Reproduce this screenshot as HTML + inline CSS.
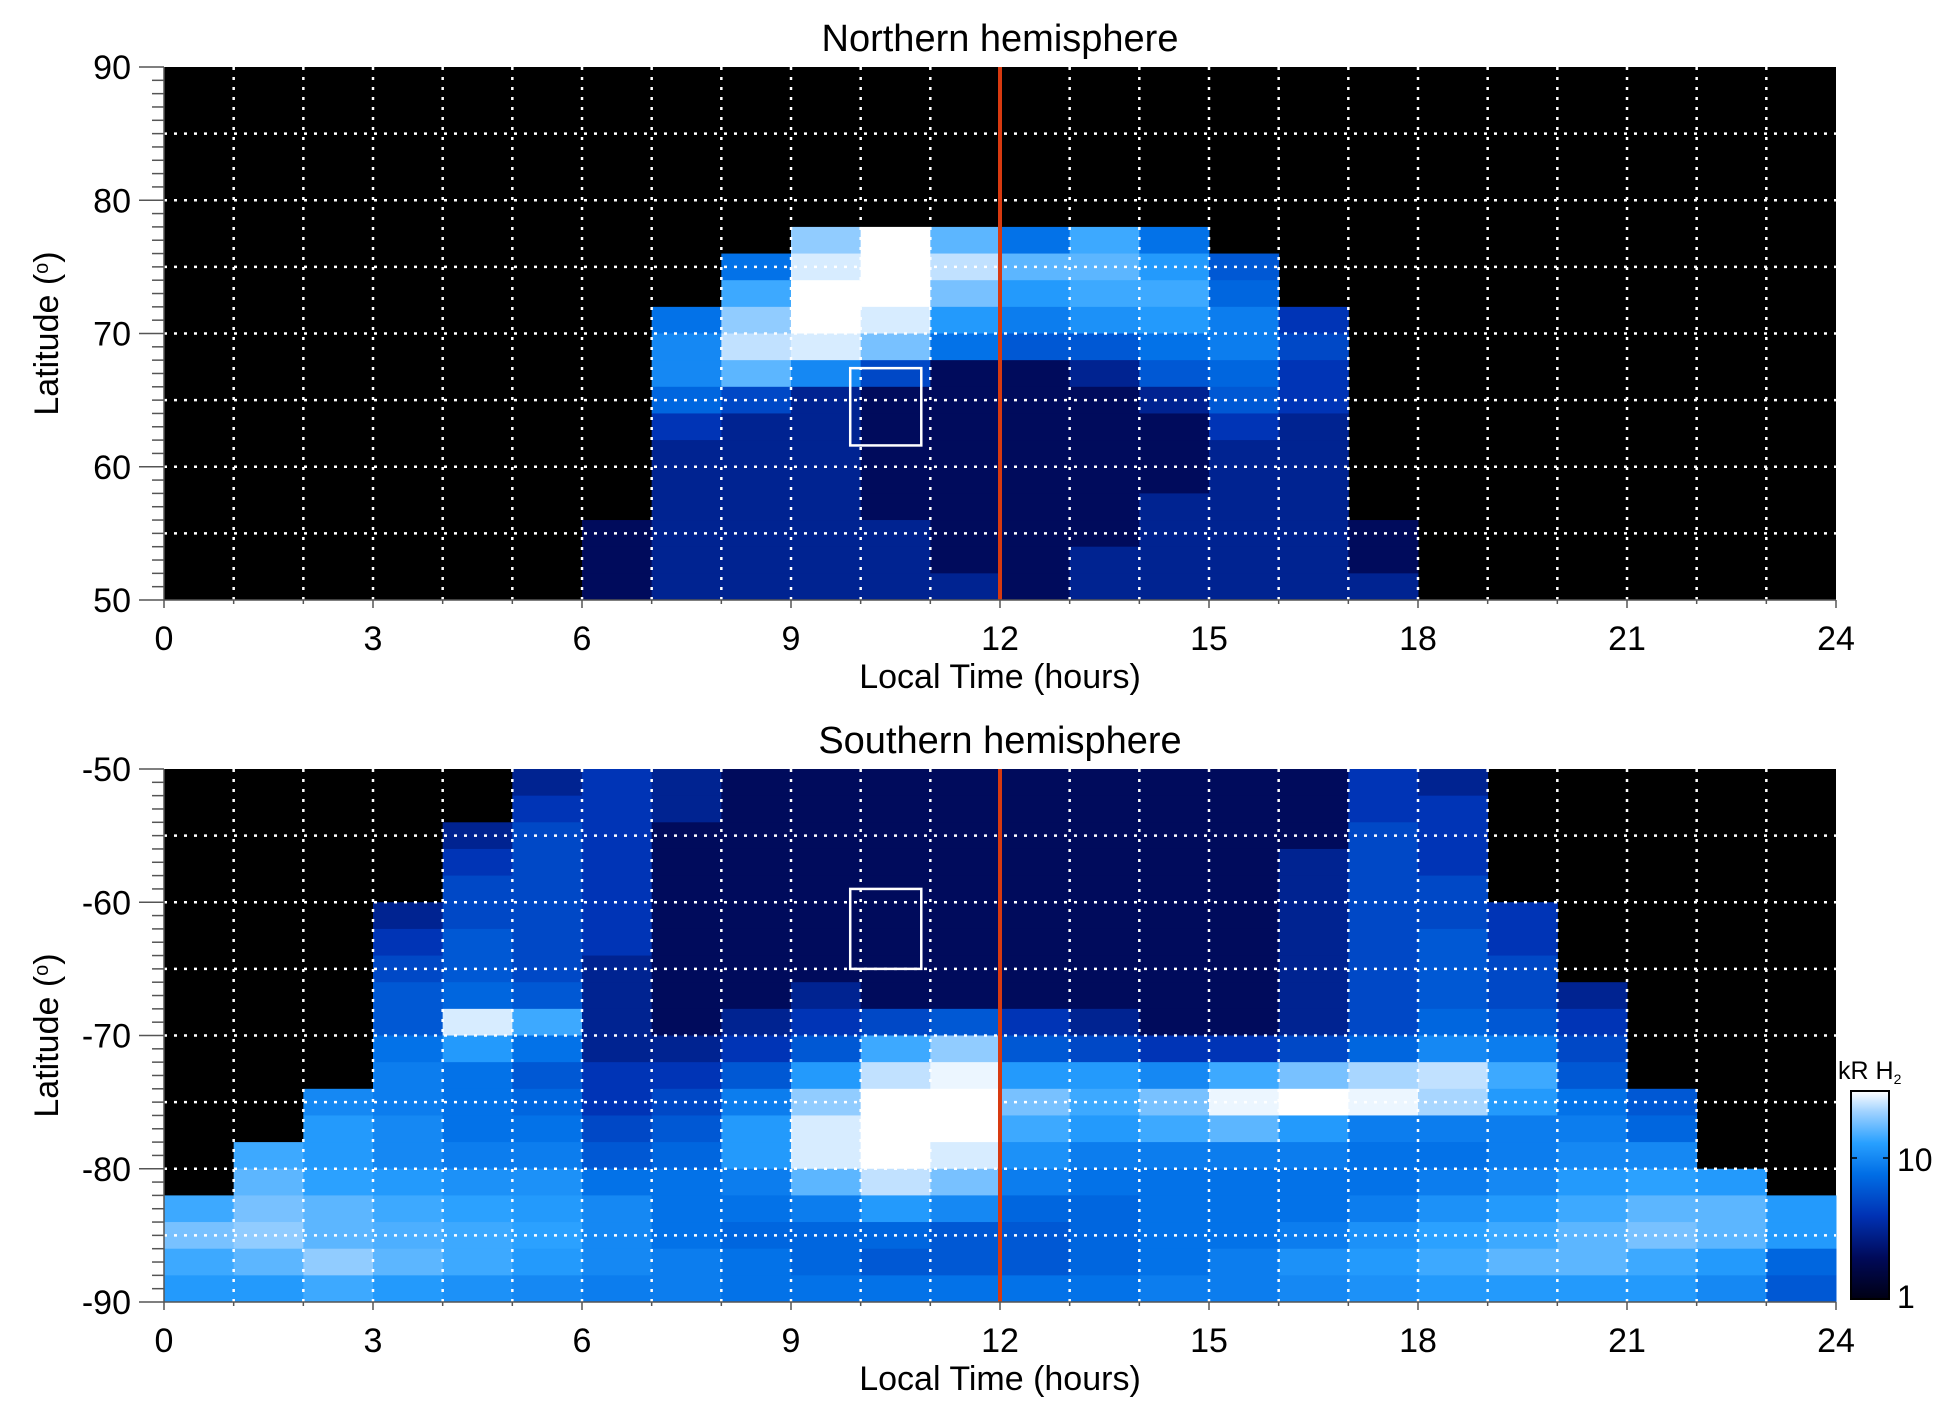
<!DOCTYPE html>
<html><head><meta charset="utf-8"><style>
body{margin:0;background:#fff;}
svg text{font-family:"Liberation Sans",sans-serif;fill:#000;}
</style></head><body>
<svg id="chart" width="1950" height="1423" viewBox="0 0 1950 1423" xmlns="http://www.w3.org/2000/svg">
<defs>
<linearGradient id="cbg" x1="0" y1="1" x2="0" y2="0">
<stop offset="0" stop-color="rgb(0,0,20)"/>
<stop offset="0.2" stop-color="rgb(0,10,90)"/>
<stop offset="0.4" stop-color="rgb(0,50,180)"/>
<stop offset="0.6" stop-color="rgb(0,110,230)"/>
<stop offset="0.75" stop-color="rgb(40,160,255)"/>
<stop offset="0.9" stop-color="rgb(160,210,255)"/>
<stop offset="1" stop-color="rgb(255,255,255)"/>
</linearGradient>
</defs>
<g id="north"></g>
<g id="south"></g>
<g>
<rect x="1851" y="1091" width="38" height="208" fill="url(#cbg)" stroke="#000" stroke-width="2"/>
<line x1="1851" y1="1158" x2="1857" y2="1158" stroke="#000" stroke-width="1.5"/>
<line x1="1883" y1="1158" x2="1889" y2="1158" stroke="#000" stroke-width="1.5"/>
<text x="1897" y="1171" font-size="32">10</text>
<text x="1897" y="1308" font-size="32">1</text>
<text x="1838" y="1079" font-size="25">kR H<tspan font-size="14" dy="5">2</tspan></text>
</g>
</svg>
<script>
const hours = [0,1,2,3,4,5,6,7,8,9,10,11,12,13,14,15,16,17,18,19,20,21,22,23];
const xTickLabels = ["0","3","6","9","12","15","18","21","24"];
const northLatTicks = ["50","60","70","80","90"];
const southLatTicks = ["-90","-80","-70","-60","-50"];
// Northern hemisphere intensity (kR), rows from 90-88 down to 52-50, cols 0..23 h
const northRows = [
[0,0,0,0,0,0,0,0,0,0,0,0,0,0,0,0,0,0,0,0,0,0,0,0],
[0,0,0,0,0,0,0,0,0,0,0,0,0,0,0,0,0,0,0,0,0,0,0,0],
[0,0,0,0,0,0,0,0,0,0,0,0,0,0,0,0,0,0,0,0,0,0,0,0],
[0,0,0,0,0,0,0,0,0,0,0,0,0,0,0,0,0,0,0,0,0,0,0,0],
[0,0,0,0,0,0,0,0,0,0,0,0,0,0,0,0,0,0,0,0,0,0,0,0],
[0,0,0,0,0,0,0,0,0,0,0,0,0,0,0,0,0,0,0,0,0,0,0,0],
[0,0,0,0,0,0,0,0,0,20,30,16,8,14,8,0,0,0,0,0,0,0,0,0],
[0,0,0,0,0,0,0,0,8,26,30,24,16,16,12,6,0,0,0,0,0,0,0,0],
[0,0,0,0,0,0,0,0,14,30,30,18,12,14,14,7,0,0,0,0,0,0,0,0],
[0,0,0,0,0,0,0,8,20,30,26,12,9,11,12,9,4,0,0,0,0,0,0,0],
[0,0,0,0,0,0,0,10,24,26,18,8,6,6,8,9,5,0,0,0,0,0,0,0],
[0,0,0,0,0,0,0,10,16,10,5,2,2,3,6,7,4,0,0,0,0,0,0,0],
[0,0,0,0,0,0,0,7,5,3,2,2,2,2,3,6,4,0,0,0,0,0,0,0],
[0,0,0,0,0,0,0,4,3,3,2,2,2,2,2,4,3,0,0,0,0,0,0,0],
[0,0,0,0,0,0,0,3,3,3,2,2,2,2,2,3,3,0,0,0,0,0,0,0],
[0,0,0,0,0,0,0,3,3,3,2,2,2,2,2,3,3,0,0,0,0,0,0,0],
[0,0,0,0,0,0,0,3,3,3,2,2,2,2,3,3,3,0,0,0,0,0,0,0],
[0,0,0,0,0,0,2,3,3,3,3,2,2,2,3,3,3,2,0,0,0,0,0,0],
[0,0,0,0,0,0,2,3,3,3,3,2,2,3,3,3,3,2,0,0,0,0,0,0],
[0,0,0,0,0,0,2,3,3,3,3,3,2,3,3,3,3,3,0,0,0,0,0,0]
];
// Southern hemisphere intensity (kR), rows from -50..-52 down to -88..-90
const southRows = [
[0,0,0,0,0,3,4,3,2,2,2,2,2,2,2,2,2,4,3,0,0,0,0,0],
[0,0,0,0,0,4,4,3,2,2,2,2,2,2,2,2,2,4,4,0,0,0,0,0],
[0,0,0,0,3,5,4,2,2,2,2,2,2,2,2,2,2,5,4,0,0,0,0,0],
[0,0,0,0,4,5,4,2,2,2,2,2,2,2,2,2,3,5,4,0,0,0,0,0],
[0,0,0,0,5,5,4,2,2,2,2,2,2,2,2,2,3,5,5,0,0,0,0,0],
[0,0,0,3,5,5,4,2,2,2,2,2,2,2,2,2,3,5,5,4,0,0,0,0],
[0,0,0,4,6,5,4,2,2,2,2,2,2,2,2,2,3,5,6,4,0,0,0,0],
[0,0,0,5,6,5,3,2,2,2,2,2,2,2,2,2,3,5,6,5,0,0,0,0],
[0,0,0,6,7,6,3,2,2,3,2,2,2,2,2,2,3,5,6,5,3,0,0,0],
[0,0,0,6,26,14,3,2,3,4,5,6,4,3,2,2,3,5,7,6,4,0,0,0],
[0,0,0,8,12,8,3,3,4,6,14,20,6,5,4,4,5,7,10,9,5,0,0,0],
[0,0,0,9,8,6,4,4,6,12,24,28,12,12,10,14,18,22,24,14,6,0,0,0],
[0,0,10,9,8,7,4,5,9,20,30,30,18,14,18,28,30,28,22,12,8,6,0,0],
[0,0,12,10,8,8,5,6,12,26,30,30,14,12,14,16,12,9,9,9,9,7,0,0],
[0,14,12,10,9,9,6,7,12,26,30,26,11,9,9,9,9,8,8,9,10,10,0,0],
[0,16,13,12,11,11,8,8,9,16,24,18,9,8,8,8,8,8,9,10,12,13,12,0],
[14,18,16,14,13,12,10,8,8,9,12,10,7,7,8,8,8,9,11,12,14,16,16,12],
[18,20,16,15,14,13,10,8,7,7,7,6,6,7,8,8,9,11,13,14,16,18,16,12],
[14,16,20,16,14,12,10,9,8,7,6,6,6,7,8,9,11,12,14,16,16,14,12,7],
[12,12,14,12,11,10,9,9,8,8,8,8,8,8,9,9,10,11,12,12,12,12,10,6]
];
const boxNorth = [9.85,10.87,61.6,67.4];
const boxSouth = [9.85,10.87,-65,-59];
const NS="http://www.w3.org/2000/svg";
const VMAX=30;
const stops=[[0,[0,0,20]],[0.2,[0,10,90]],[0.4,[0,50,180]],[0.6,[0,110,230]],[0.75,[40,160,255]],[0.9,[160,210,255]],[1,[255,255,255]]];
function cmap(v){
  if(v<=0) return "#000";
  let t=Math.max(0,Math.min(1,Math.log10(v)/Math.log10(VMAX)));
  for(let i=1;i<stops.length;i++){
    if(t<=stops[i][0]){
      const a=stops[i-1],b=stops[i],f=(t-a[0])/(b[0]-a[0]);
      const c=a[1].map((x,k)=>Math.round(x+(b[1][k]-x)*f));
      return `rgb(${c[0]},${c[1]},${c[2]})`;
    }
  }
  return "#fff";
}
function mk(tag,attrs,parent){const e=document.createElementNS(NS,tag);for(const k in attrs)e.setAttribute(k,attrs[k]);parent.appendChild(e);return e;}
const X0=164,X1=1836;
function xs(h){return X0+(X1-X0)*h/24;}
function drawPanel(g,top,bottom,latMin,latMax,rows,box,title,yTicks){
  const ys=lat=>bottom-(bottom-top)*(lat-latMin)/(latMax-latMin);
  const bg=mk("rect",{x:X0,y:top,width:X1-X0,height:bottom-top,fill:"#000"},g);
  
  
  const nr=rows.length, step=(latMax-latMin)/nr;
  rows.forEach((row,ri)=>{
    const latHi = latMax-ri*step;
    const latLo = latHi-step;
    row.forEach((v,ci)=>{
      if(v<=0) return;
      const r=mk("rect",{x:xs(hours[ci]),y:ys(latHi),width:xs(hours[ci]+1)-xs(hours[ci])+0.5,height:ys(latLo)-ys(latHi)+0.5,fill:cmap(v)},g);
      
      
    });
  });
  for(let h=1;h<24;h++){
    const l=mk("line",{x1:xs(h),x2:xs(h),y1:top,y2:bottom,stroke:"#fff","stroke-width":2.5,"stroke-dasharray":"3 7"},g);
    
    
  }
  for(let lat=latMin+5;lat<latMax;lat+=5){
    const l=mk("line",{x1:X0,x2:X1,y1:ys(lat),y2:ys(lat),stroke:"#fff","stroke-width":2.5,"stroke-dasharray":"3 7"},g);
    
    
  }
  const b=mk("rect",{x:xs(box[0]),y:ys(box[3]),width:xs(box[1])-xs(box[0]),height:ys(box[2])-ys(box[3]),fill:"none",stroke:"#fff","stroke-width":2.5},g);
  
  
  const n=mk("line",{x1:xs(12),x2:xs(12),y1:top,y2:bottom,stroke:"#d83a10","stroke-width":4},g);
  
  
  mk("line",{x1:X0,x2:X1,y1:bottom,y2:bottom,stroke:"#555","stroke-width":1.5},g);
  mk("line",{x1:X0,x2:X0,y1:top,y2:bottom,stroke:"#555","stroke-width":1.5},g);
  for(let lat=latMin;lat<=latMax;lat++){
    const major=(lat%10===0);
    mk("line",{x1:X0-(major?25:12),x2:X0,y1:ys(lat),y2:ys(lat),stroke:"#555","stroke-width":1.5},g);
  }
  for(let h=0;h<=24;h++){
    mk("line",{x1:xs(h),x2:xs(h),y1:bottom,y2:bottom+(h%3===0?8:4),stroke:"#555","stroke-width":1.5},g);
  }
  yTicks.forEach((lab,i)=>{
    const t=mk("text",{x:X0-33,y:ys(latMin+10*i)+12,"font-size":34,"text-anchor":"end"},g);
    t.textContent=lab;
    
    
  });
  xTickLabels.forEach((lab,i)=>{
    const t=mk("text",{x:xs(3*i),y:bottom+50,"font-size":34,"text-anchor":"middle"},g);
    t.textContent=lab;
    
    
  });
  const xt=mk("text",{x:xs(12),y:bottom+88,"font-size":34,"text-anchor":"middle"},g);
  xt.textContent="Local Time (hours)";
  
  
  const yt=mk("text",{x:0,y:0,"font-size":34,"text-anchor":"middle",transform:`translate(58,${(top+bottom)/2}) rotate(-90)`},g);
  yt.innerHTML='Latitude (<tspan font-size="20" dy="-10">o</tspan><tspan dy="10">)</tspan>';
  
  
  const tt=mk("text",{x:xs(12),y:top-16,"font-size":38,"text-anchor":"middle"},g);
  tt.textContent=title;
  
  
}
drawPanel(document.getElementById('north'),67,600,50,90,northRows,boxNorth,"Northern hemisphere",northLatTicks);
drawPanel(document.getElementById('south'),769,1302,-90,-50,southRows,boxSouth,"Southern hemisphere",southLatTicks);
</script>
</body></html>
